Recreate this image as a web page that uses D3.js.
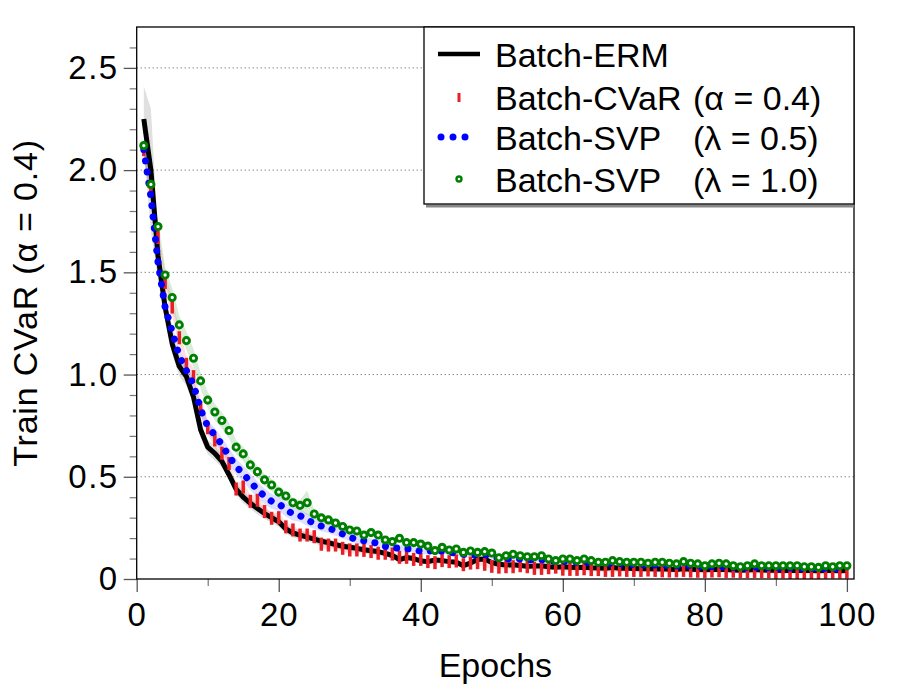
<!DOCTYPE html>
<html>
<head>
<meta charset="utf-8">
<script src="https://cdn.jsdelivr.net/npm/d3@7"></script>
<style>
body { margin: 0; background: #fff; }
svg text { font-family: "Liberation Sans", Arial, Helvetica, sans-serif; fill: #000; }
</style>
</head>
<body>
<div id="chart-area"></div>
<script>

// epochs 1..100
var epochs = d3.range(1, 101);

var ermMean = [
	2.25, 2.00, 1.58, 1.33, 1.15, 1.04, 0.99, 0.89, 0.73, 0.645,
	0.615, 0.575, 0.51, 0.44, 0.40, 0.37, 0.345, 0.32, 0.30, 0.28,
	0.245, 0.225, 0.215, 0.205, 0.195, 0.185, 0.178, 0.168, 0.16, 0.155,
	0.15, 0.143, 0.138, 0.134, 0.125, 0.115, 0.095, 0.105, 0.10, 0.088,
	0.085, 0.093, 0.09, 0.085, 0.082, 0.065, 0.078, 0.095, 0.098, 0.08,
	0.072, 0.068, 0.07, 0.066, 0.062, 0.063, 0.065, 0.06, 0.057, 0.06,
	0.058, 0.056, 0.058, 0.055, 0.054, 0.052, 0.056, 0.053, 0.052, 0.051,
	0.05, 0.05, 0.049, 0.05, 0.048, 0.047, 0.05, 0.048, 0.046, 0.045,
	0.047, 0.048, 0.046, 0.044, 0.043, 0.044, 0.046, 0.044, 0.043, 0.043,
	0.042, 0.043, 0.042, 0.041, 0.041, 0.04, 0.042, 0.041, 0.04, 0.041
];
var ermStd = [
	0.16, 0.30, 0.12, 0.07, 0.05, 0.05, 0.045, 0.04, 0.04, 0.035,
	0.035, 0.03, 0.03, 0.03, 0.03, 0.028, 0.028, 0.026, 0.025, 0.025,
	0.024, 0.022, 0.022, 0.02, 0.02, 0.02, 0.018, 0.018, 0.018, 0.017,
	0.016, 0.016, 0.015, 0.015, 0.015, 0.014, 0.014, 0.013, 0.013, 0.013,
	0.012, 0.012, 0.012, 0.012, 0.012, 0.012, 0.012, 0.012, 0.012, 0.012,
	0.011, 0.011, 0.011, 0.011, 0.011, 0.011, 0.011, 0.011, 0.011, 0.011,
	0.01, 0.01, 0.01, 0.01, 0.01, 0.01, 0.01, 0.01, 0.01, 0.01,
	0.01, 0.01, 0.01, 0.01, 0.01, 0.01, 0.01, 0.01, 0.01, 0.01,
	0.01, 0.01, 0.01, 0.01, 0.01, 0.01, 0.01, 0.01, 0.01, 0.01,
	0.01, 0.01, 0.01, 0.01, 0.01, 0.01, 0.01, 0.01, 0.01, 0.01
];

var cvarMean = [
	2.10, 1.90, 1.67, 1.45, 1.33, 1.18, 1.05, 0.99, 0.84, 0.74,
	0.68, 0.615, 0.565, 0.44, 0.45, 0.38, 0.385, 0.33, 0.297, 0.30,
	0.255, 0.24, 0.215, 0.215, 0.207, 0.17, 0.166, 0.166, 0.15, 0.142,
	0.142, 0.14, 0.134, 0.126, 0.126, 0.122, 0.106, 0.106, 0.096, 0.096,
	0.085, 0.08, 0.09, 0.085, 0.088, 0.07, 0.078, 0.08, 0.072, 0.062,
	0.058, 0.06, 0.06, 0.065, 0.06, 0.052, 0.052, 0.055, 0.058, 0.048,
	0.047, 0.047, 0.05, 0.046, 0.046, 0.042, 0.042, 0.044, 0.042, 0.042,
	0.042, 0.044, 0.042, 0.04, 0.039, 0.04, 0.042, 0.039, 0.038, 0.037,
	0.039, 0.04, 0.037, 0.038, 0.036, 0.036, 0.037, 0.036, 0.036, 0.033,
	0.035, 0.032, 0.032, 0.032, 0.032, 0.032, 0.033, 0.034, 0.034, 0.034
];
var cvarStd = [
	0.04, 0.05, 0.05, 0.05, 0.045, 0.045, 0.04, 0.04, 0.04, 0.035,
	0.035, 0.035, 0.03, 0.03, 0.03, 0.028, 0.028, 0.026, 0.025, 0.025,
	0.024, 0.022, 0.022, 0.02, 0.02, 0.02, 0.018, 0.018, 0.018, 0.017,
	0.016, 0.016, 0.015, 0.015, 0.015, 0.014, 0.014, 0.013, 0.013, 0.013,
	0.012, 0.012, 0.012, 0.012, 0.012, 0.012, 0.012, 0.012, 0.012, 0.012,
	0.011, 0.011, 0.011, 0.011, 0.011, 0.011, 0.011, 0.011, 0.011, 0.011,
	0.01, 0.01, 0.01, 0.01, 0.01, 0.01, 0.01, 0.01, 0.01, 0.01,
	0.01, 0.01, 0.01, 0.01, 0.01, 0.01, 0.01, 0.01, 0.01, 0.01,
	0.01, 0.01, 0.01, 0.01, 0.01, 0.01, 0.01, 0.01, 0.01, 0.01,
	0.01, 0.01, 0.01, 0.01, 0.01, 0.01, 0.01, 0.01, 0.01, 0.01
];

var svp05Mean = [
	2.10, 1.87, 1.55, 1.33, 1.21, 1.09, 1.02, 0.95, 0.83, 0.745,
	0.705, 0.657, 0.60, 0.55, 0.515, 0.475, 0.437, 0.405, 0.38, 0.368,
	0.34, 0.318, 0.31, 0.289, 0.272, 0.259, 0.25, 0.235, 0.22, 0.205,
	0.192, 0.187, 0.18, 0.175, 0.16, 0.153, 0.15, 0.148, 0.145, 0.136,
	0.135, 0.142, 0.136, 0.132, 0.125, 0.12, 0.115, 0.118, 0.12, 0.11,
	0.10, 0.098, 0.10, 0.098, 0.095, 0.093, 0.095, 0.09, 0.085, 0.086,
	0.085, 0.082, 0.083, 0.08, 0.076, 0.074, 0.077, 0.075, 0.072, 0.071,
	0.07, 0.068, 0.069, 0.068, 0.066, 0.064, 0.067, 0.065, 0.062, 0.06,
	0.061, 0.062, 0.06, 0.057, 0.055, 0.056, 0.058, 0.056, 0.055, 0.055,
	0.054, 0.054, 0.053, 0.052, 0.052, 0.05, 0.052, 0.051, 0.05, 0.05
];
var svp05Std = [
	0.03, 0.03, 0.03, 0.03, 0.03, 0.03, 0.03, 0.03, 0.03, 0.03,
	0.035, 0.035, 0.04, 0.04, 0.04, 0.04, 0.04, 0.038, 0.036, 0.035,
	0.034, 0.032, 0.03, 0.03, 0.028, 0.026, 0.025, 0.024, 0.022, 0.02,
	0.02, 0.019, 0.018, 0.018, 0.017, 0.017, 0.016, 0.016, 0.015, 0.015,
	0.014, 0.014, 0.013, 0.013, 0.013, 0.012, 0.012, 0.012, 0.012, 0.012,
	0.011, 0.011, 0.011, 0.011, 0.011, 0.011, 0.011, 0.011, 0.011, 0.011,
	0.01, 0.01, 0.01, 0.01, 0.01, 0.01, 0.01, 0.01, 0.01, 0.01,
	0.01, 0.01, 0.01, 0.01, 0.01, 0.01, 0.01, 0.01, 0.01, 0.01,
	0.01, 0.01, 0.01, 0.01, 0.01, 0.01, 0.01, 0.01, 0.01, 0.01,
	0.01, 0.01, 0.01, 0.01, 0.01, 0.01, 0.01, 0.01, 0.01, 0.01
];

var svp10Mean = [
	2.12, 1.93, 1.724, 1.487, 1.377, 1.243, 1.166, 1.08, 0.969, 0.875,
	0.817, 0.775, 0.726, 0.645, 0.612, 0.558, 0.525, 0.485, 0.46, 0.425,
	0.406, 0.373, 0.36, 0.373, 0.318, 0.299, 0.289, 0.274, 0.257, 0.24,
	0.235, 0.215, 0.227, 0.215, 0.191, 0.183, 0.199, 0.178, 0.178, 0.171,
	0.161, 0.139, 0.155, 0.142, 0.147, 0.13, 0.137, 0.13, 0.134, 0.127,
	0.104, 0.114, 0.121, 0.114, 0.109, 0.109, 0.114, 0.098, 0.09, 0.098,
	0.098, 0.09, 0.098, 0.09, 0.082, 0.082, 0.09, 0.085, 0.082, 0.082,
	0.082, 0.077, 0.082, 0.082, 0.077, 0.074, 0.085, 0.077, 0.074, 0.065,
	0.074, 0.077, 0.074, 0.065, 0.06, 0.065, 0.074, 0.065, 0.065, 0.065,
	0.065, 0.065, 0.065, 0.06, 0.06, 0.057, 0.065, 0.06, 0.065, 0.065
];
var svp10Std = [
	0.03, 0.03, 0.035, 0.04, 0.045, 0.045, 0.045, 0.045, 0.04, 0.04,
	0.04, 0.04, 0.04, 0.035, 0.035, 0.032, 0.03, 0.03, 0.03, 0.028,
	0.026, 0.025, 0.025, 0.06, 0.022, 0.02, 0.02, 0.02, 0.018, 0.018,
	0.016, 0.016, 0.016, 0.015, 0.015, 0.015, 0.014, 0.014, 0.014, 0.013,
	0.013, 0.013, 0.012, 0.012, 0.012, 0.012, 0.012, 0.012, 0.012, 0.012,
	0.011, 0.011, 0.011, 0.011, 0.011, 0.011, 0.011, 0.011, 0.011, 0.011,
	0.01, 0.01, 0.01, 0.01, 0.01, 0.01, 0.01, 0.01, 0.01, 0.01,
	0.01, 0.01, 0.01, 0.01, 0.01, 0.01, 0.01, 0.01, 0.01, 0.01,
	0.01, 0.01, 0.01, 0.01, 0.01, 0.01, 0.01, 0.01, 0.01, 0.01,
	0.01, 0.01, 0.01, 0.01, 0.01, 0.01, 0.01, 0.01, 0.01, 0.01
];

var xTicks = [0, 20, 40, 60, 80, 100];
var xMinor = [10, 30, 50, 70, 90];
var yTicks = [0, 0.5, 1.0, 1.5, 2.0, 2.5];
var yTickLabels = ["0", "0.5", "1.0", "1.5", "2.0", "2.5"];
var yMinor = [0.1, 0.2, 0.3, 0.4, 0.6, 0.7, 0.8, 0.9, 1.1, 1.2, 1.3, 1.4,
	1.6, 1.7, 1.8, 1.9, 2.1, 2.2, 2.3, 2.4, 2.6];
var yGrid = [0.5, 1.0, 1.5, 2.0, 2.5];

var legendNames = ["Batch-ERM", "Batch-CVaR", "Batch-SVP", "Batch-SVP"];
var legendParams = ["", "(\u03b1 = 0.4)", "(\u03bb = 0.5)", "(\u03bb = 1.0)"];

var W = 900, H = 700;
var margin = {left: 136.7, top: 27, right: 46, bottom: 121};

var svg = d3.select("#chart-area").append("svg")
	.attr("width", W)
	.attr("height", H);

var x = d3.scaleLinear()
	.domain([0, 101])
	.range([margin.left, W - margin.right]);

var y = d3.scaleLinear()
	.domain([0, 2.7])
	.range([H - margin.bottom, margin.top]);

function rows(m, s) {
	return epochs.map(function(e, i) {
		return {e: e, m: m[i], s: s[i]};
	});
}

var erm = rows(ermMean, ermStd);
var cvar = rows(cvarMean, cvarStd);
var svp05 = rows(svp05Mean, svp05Std);
var svp10 = rows(svp10Mean, svp10Std);

svg.append("clipPath").attr("id", "plotclip")
	.append("rect")
	.attr("x", x(0)).attr("y", y(2.7))
	.attr("width", x(101) - x(0)).attr("height", y(0) - y(2.7));

// dotted grid
svg.selectAll(".grid")
	.data(yGrid)
	.enter().append("line")
		.attr("class", "grid")
		.attr("x1", x(0))
		.attr("x2", x(101))
		.attr("y1", function(d){ return y(d); })
		.attr("y2", function(d){ return y(d); })
		.style("stroke", "#555")
		.style("stroke-width", 1)
		.style("stroke-dasharray", "1,3");

var plot = svg.append("g").attr("clip-path", "url(#plotclip)");

// std bands
var band = d3.area()
	.x(function(d){ return x(d.e); })
	.y0(function(d){ return y(d.m - d.s); })
	.y1(function(d){ return y(d.m + d.s); });

plot.append("path").datum(erm).attr("d", band)
	.style("fill", "#000").style("fill-opacity", 0.12);
plot.append("path").datum(cvar).attr("d", band)
	.style("fill", "#ff0000").style("fill-opacity", 0.13);
plot.append("path").datum(svp05).attr("d", band)
	.style("fill", "#0000ff").style("fill-opacity", 0.13);
plot.append("path").datum(svp10).attr("d", band)
	.style("fill", "#008000").style("fill-opacity", 0.15);

var line = d3.line()
	.x(function(d){ return x(d.e); })
	.y(function(d){ return y(d.m); });

// ERM : solid black
plot.append("path").datum(erm).attr("d", line)
	.style("fill", "none")
	.style("stroke", "#000")
	.style("stroke-width", 5)
	.style("stroke-linejoin", "round");

// CVaR : vertical tick markers
plot.selectAll(".cvar")
	.data(cvar)
	.enter().append("rect")
		.attr("class", "cvar")
		.attr("x", function(d){ return x(d.e) - 1.75; })
		.attr("y", function(d){ return y(d.m) - 6.5; })
		.attr("width", 3.5)
		.attr("height", 13)
		.style("fill", "#ea1f25");

// SVP 0.5 : dotted blue
plot.append("path").datum(svp05).attr("d", line)
	.style("fill", "none")
	.style("stroke", "#0000ff")
	.style("stroke-width", 7)
	.style("stroke-linecap", "round")
	.style("stroke-dasharray", "0.01,11.3");

// SVP 1.0 : open green circles
plot.selectAll(".svp10")
	.data(svp10)
	.enter().append("circle")
		.attr("class", "svp10")
		.attr("cx", function(d){ return x(d.e); })
		.attr("cy", function(d){ return y(d.m); })
		.attr("r", 3.1)
		.style("fill", "#fff")
		.style("stroke", "#008000")
		.style("stroke-width", 2.9);

// axes
var yAxis = d3.axisLeft(y)
	.tickValues(yTicks)
	.tickSize(13)
	.tickPadding(5)
	.tickFormat(function(d, i){ return yTickLabels[i]; });

var yAxisMinor = d3.axisLeft(y).tickValues(yMinor).tickSize(7).tickFormat("");

var xAxis = d3.axisBottom(x)
	.tickValues(xTicks)
	.tickSize(13)
	.tickPadding(11)
	.tickFormat(d3.format("d"));

var xAxisMinor = d3.axisBottom(x).tickValues(xMinor).tickSize(7).tickFormat("");

var gy = svg.append("g").attr("transform", "translate(" + x(0) + ",0)").call(yAxis);
var gym = svg.append("g").attr("transform", "translate(" + x(0) + ",0)").call(yAxisMinor);
var gx = svg.append("g").attr("transform", "translate(0," + y(0) + ")").call(xAxis);
var gxm = svg.append("g").attr("transform", "translate(0," + y(0) + ")").call(xAxisMinor);

[gy, gym, gx, gxm].forEach(function(g){
	g.select(".domain").remove();
});
gy.selectAll(".tick line").style("stroke", "#555").style("stroke-width", 1.3);
gx.selectAll(".tick line").style("stroke", "#555").style("stroke-width", 1.3);
gym.selectAll(".tick line").style("stroke", "#777").style("stroke-width", 1.2);
gxm.selectAll(".tick line").style("stroke", "#777").style("stroke-width", 1.2);
gy.selectAll(".tick text").style("font-size", "33px").style("letter-spacing", "1.5px")
	.style("font-family", "Liberation Sans, Arial, sans-serif");
gx.selectAll(".tick text").style("font-size", "33px").style("letter-spacing", "1px")
	.style("font-family", "Liberation Sans, Arial, sans-serif");

// frame
svg.append("rect")
	.attr("x", x(0))
	.attr("y", y(2.7))
	.attr("width", x(101) - x(0))
	.attr("height", y(0) - y(2.7))
	.style("fill", "none")
	.style("stroke", "#000")
	.style("stroke-width", 1.3);

// axis titles
svg.append("text")
	.attr("x", (x(0) + x(101)) / 2)
	.attr("y", 677)
	.attr("text-anchor", "middle")
	.style("font-size", "34px")
	.text("Epochs");

svg.append("text")
	.attr("transform", "translate(37," + ((y(0) + y(2.7)) / 2) + ") rotate(-90)")
	.attr("text-anchor", "middle")
	.style("font-size", "34px")
	.style("letter-spacing", "0.8px")
	.text("Train CVaR (\u03b1 = 0.4)");

// legend
var lg = svg.append("g");
var lx0 = 424, ly0 = 27, lx1 = 854, ly1 = 204;

lg.append("line")
	.attr("x1", lx0 + 2).attr("x2", lx1)
	.attr("y1", ly1 + 2).attr("y2", ly1 + 2)
	.style("stroke", "#888").style("stroke-width", 3);
lg.append("rect")
	.attr("x", lx0).attr("y", ly0)
	.attr("width", lx1 - lx0).attr("height", ly1 - ly0)
	.style("fill", "#fff")
	.style("stroke", "#000")
	.style("stroke-width", 1.3);

var rowY = [54, 97, 137, 179];
var sx = 459;

lg.append("line")
	.attr("x1", 438).attr("x2", 480)
	.attr("y1", rowY[0]).attr("y2", rowY[0])
	.style("stroke", "#000").style("stroke-width", 4.5);

lg.append("rect")
	.attr("x", sx - 1.5).attr("y", rowY[1] - 4)
	.attr("width", 3).attr("height", 9)
	.style("fill", "#ea1f25");

lg.selectAll(".ldot")
	.data([0, 1, 2])
	.enter().append("circle")
		.attr("class", "ldot")
		.attr("cx", function(d){ return 441 + d * 12; })
		.attr("cy", rowY[2])
		.attr("r", 3.5)
		.style("fill", "#0000ff");

lg.append("circle")
	.attr("cx", sx).attr("cy", rowY[3])
	.attr("r", 2.5)
	.style("fill", "#fff")
	.style("stroke", "#008000")
	.style("stroke-width", 2.4);

lg.selectAll(".lname")
	.data(legendNames)
	.enter().append("text")
		.attr("class", "lname")
		.attr("x", 495)
		.attr("y", function(d, i){ return rowY[i] + 12.5; })
		.style("font-size", "34px")
		.text(function(d){ return d; });

lg.selectAll(".lparam")
	.data(legendParams)
	.enter().append("text")
		.attr("class", "lparam")
		.attr("x", 693)
		.attr("y", function(d, i){ return rowY[i] + 12.5; })
		.style("font-size", "34px")
		.text(function(d){ return d; });

</script>
</body>
</html>
